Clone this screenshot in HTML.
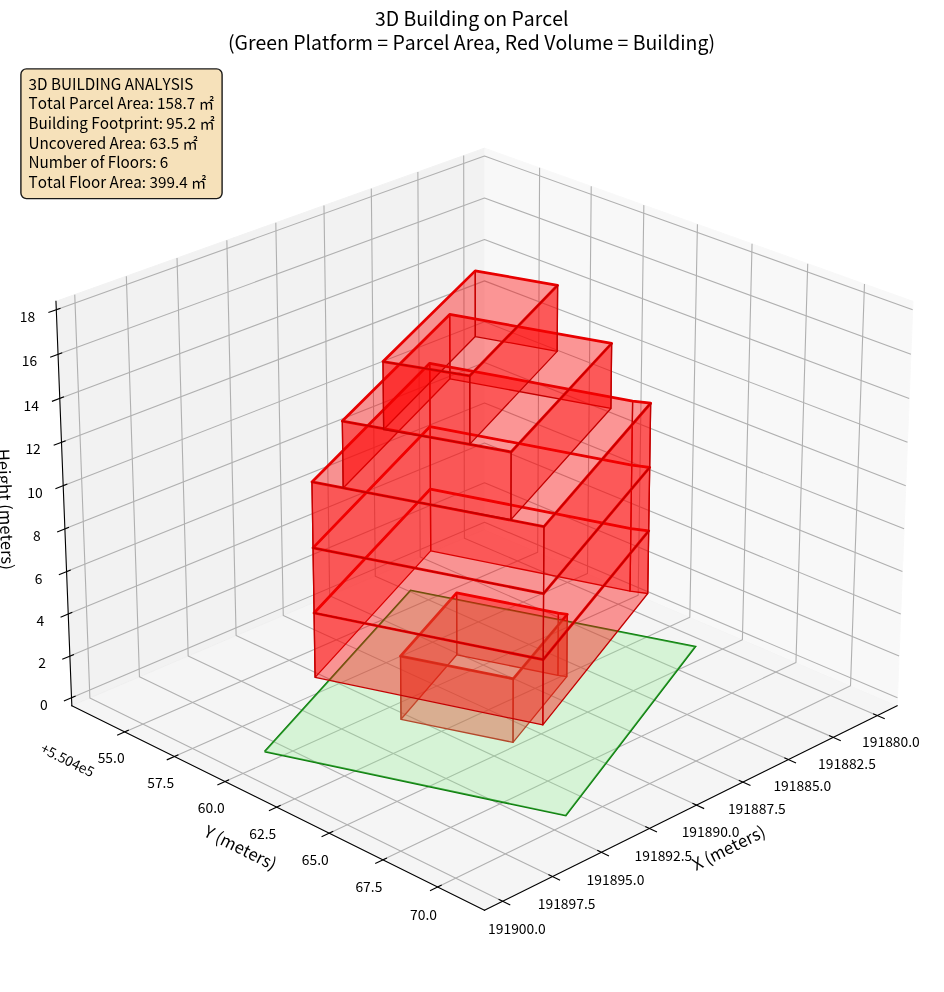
<!DOCTYPE html>
<html lang="en"><head><meta charset="utf-8"><title>3D Building on Parcel</title>
<style>html,body{margin:0;padding:0;background:#fff}svg{display:block}svg *{stroke-linejoin:round;stroke-linecap:butt}text{font-family:'Noto Sans CJK JP','Noto Sans CJK SC','Liberation Sans',sans-serif;fill:#000;font-kerning:none}.ttl text{font-size:19.44px;text-anchor:middle}.tk{font-size:13.89px;text-anchor:middle}.lb{font-size:16.67px;text-anchor:middle}.bx text{font-size:15.28px}</style></head>
<body>
<svg width="944" height="992" viewBox="0 0 944 992" role="img" aria-label="3D Building on Parcel">
<rect width="944" height="992" fill="#ffffff"/>
<g id="title" class="ttl">
<text x="471.7" y="25.7">3D Building on Parcel</text>
<text x="471.5" y="49.8">(Green Platform = Parcel Area, Red Volume = Building)</text>
</g>
<g id="panes">
<path d="M484.49 529.59L897.14 705.65L913.01 301.35L484.49 148.17" style="fill:#f2f2f2;opacity:0.5;stroke:#f2f2f2;stroke-linejoin:miter"/>
<path d="M484.49 529.59L71.83 705.65L55.96 301.35L484.49 148.17" style="fill:#e6e6e6;opacity:0.5;stroke:#e6e6e6;stroke-linejoin:miter"/>
<path d="M484.49 529.59L71.83 705.65L484.49 910.22L897.14 705.65" style="fill:#ececec;opacity:0.5;stroke:#ececec;stroke-linejoin:miter"/>
</g>
<g id="grid">
<path d="M877.15 715.56L464.39 538.16L463.67 155.61" style="fill:none;stroke:#b0b0b0;stroke-width:1.11"/>
<path d="M833.16 737.37L420.2 557.02L417.87 171.98" style="fill:none;stroke:#b0b0b0;stroke-width:1.11"/>
<path d="M788.4 759.56L375.29 576.18L371.31 188.62" style="fill:none;stroke:#b0b0b0;stroke-width:1.11"/>
<path d="M742.85 782.14L329.65 595.65L323.97 205.55" style="fill:none;stroke:#b0b0b0;stroke-width:1.11"/>
<path d="M696.5 805.12L283.27 615.44L275.81 222.76" style="fill:none;stroke:#b0b0b0;stroke-width:1.11"/>
<path d="M649.33 828.5L236.12 635.56L226.84 240.26" style="fill:none;stroke:#b0b0b0;stroke-width:1.11"/>
<path d="M601.31 852.31L188.18 656.01L177.02 258.07" style="fill:none;stroke:#b0b0b0;stroke-width:1.11"/>
<path d="M552.42 876.54L139.44 676.81L126.33 276.19" style="fill:none;stroke:#b0b0b0;stroke-width:1.11"/>
<path d="M502.63 901.22L89.88 697.95L74.75 294.63" style="fill:none;stroke:#b0b0b0;stroke-width:1.11"/>
<path d="M539.6 167.87L537.68 552.29L124.76 731.89" style="fill:none;stroke:#b0b0b0;stroke-width:1.11"/>
<path d="M591.23 186.33L587.49 573.54L174.4 756.5" style="fill:none;stroke:#b0b0b0;stroke-width:1.11"/>
<path d="M643.84 205.13L638.19 595.17L224.99 781.58" style="fill:none;stroke:#b0b0b0;stroke-width:1.11"/>
<path d="M697.43 224.29L689.82 617.2L276.59 807.16" style="fill:none;stroke:#b0b0b0;stroke-width:1.11"/>
<path d="M752.05 243.81L742.4 639.63L329.2 833.24" style="fill:none;stroke:#b0b0b0;stroke-width:1.11"/>
<path d="M807.72 263.71L795.96 662.48L382.87 859.85" style="fill:none;stroke:#b0b0b0;stroke-width:1.11"/>
<path d="M864.48 284L850.52 685.76L437.63 886.99" style="fill:none;stroke:#b0b0b0;stroke-width:1.11"/>
<path d="M71.52 697.86L484.49 522.22L897.45 697.86" style="fill:none;stroke:#b0b0b0;stroke-width:1.11"/>
<path d="M69.89 656.11L484.49 482.74L899.09 656.11" style="fill:none;stroke:#b0b0b0;stroke-width:1.11"/>
<path d="M68.23 614.02L484.49 442.96L900.74 614.02" style="fill:none;stroke:#b0b0b0;stroke-width:1.11"/>
<path d="M66.57 571.59L484.49 402.89L902.41 571.59" style="fill:none;stroke:#b0b0b0;stroke-width:1.11"/>
<path d="M64.89 528.83L484.49 362.52L904.08 528.83" style="fill:none;stroke:#b0b0b0;stroke-width:1.11"/>
<path d="M63.2 485.71L484.49 321.85L905.78 485.71" style="fill:none;stroke:#b0b0b0;stroke-width:1.11"/>
<path d="M61.49 442.25L484.49 280.87L907.48 442.25" style="fill:none;stroke:#b0b0b0;stroke-width:1.11"/>
<path d="M59.77 398.44L484.49 239.58L909.2 398.44" style="fill:none;stroke:#b0b0b0;stroke-width:1.11"/>
<path d="M58.04 354.27L484.49 197.98L910.94 354.27" style="fill:none;stroke:#b0b0b0;stroke-width:1.11"/>
<path d="M56.29 309.74L484.49 156.06L912.68 309.74" style="fill:none;stroke:#b0b0b0;stroke-width:1.11"/>
</g>
<g id="axes">
<path d="M897.14 705.65L484.49 910.22" style="fill:none;stroke:#000000;stroke-width:1.11;stroke-linecap:square"/>
<path d="M71.83 705.65L484.49 910.22" style="fill:none;stroke:#000000;stroke-width:1.11;stroke-linecap:square"/>
<path d="M71.83 705.65L55.96 301.35" style="fill:none;stroke:#000000;stroke-width:1.11;stroke-linecap:square"/>
</g>
<g id="ticks">
<path d="M873.61 714.04L884.26 718.62" style="fill:none;stroke:#000000;stroke-width:1.11;stroke-linecap:square"/>
<path d="M829.6 735.82L840.27 740.48" style="fill:none;stroke:#000000;stroke-width:1.11;stroke-linecap:square"/>
<path d="M784.84 757.98L795.52 762.73" style="fill:none;stroke:#000000;stroke-width:1.11;stroke-linecap:square"/>
<path d="M739.29 780.53L749.98 785.36" style="fill:none;stroke:#000000;stroke-width:1.11;stroke-linecap:square"/>
<path d="M692.94 803.48L703.64 808.39" style="fill:none;stroke:#000000;stroke-width:1.11;stroke-linecap:square"/>
<path d="M645.77 826.84L656.47 831.84" style="fill:none;stroke:#000000;stroke-width:1.11;stroke-linecap:square"/>
<path d="M597.74 850.61L608.45 855.7" style="fill:none;stroke:#000000;stroke-width:1.11;stroke-linecap:square"/>
<path d="M548.85 874.82L559.56 880" style="fill:none;stroke:#000000;stroke-width:1.11;stroke-linecap:square"/>
<path d="M499.07 899.47L509.78 904.74" style="fill:none;stroke:#000000;stroke-width:1.11;stroke-linecap:square"/>
<path d="M128.32 730.35L117.65 734.99" style="fill:none;stroke:#000000;stroke-width:1.11;stroke-linecap:square"/>
<path d="M177.95 754.92L167.27 759.65" style="fill:none;stroke:#000000;stroke-width:1.11;stroke-linecap:square"/>
<path d="M228.55 779.98L217.86 784.8" style="fill:none;stroke:#000000;stroke-width:1.11;stroke-linecap:square"/>
<path d="M280.15 805.52L269.45 810.44" style="fill:none;stroke:#000000;stroke-width:1.11;stroke-linecap:square"/>
<path d="M332.76 831.57L322.06 836.59" style="fill:none;stroke:#000000;stroke-width:1.11;stroke-linecap:square"/>
<path d="M386.44 858.14L375.73 863.26" style="fill:none;stroke:#000000;stroke-width:1.11;stroke-linecap:square"/>
<path d="M441.19 885.25L430.48 890.47" style="fill:none;stroke:#000000;stroke-width:1.11;stroke-linecap:square"/>
<path d="M75.07 696.35L64.41 700.89" style="fill:none;stroke:#000000;stroke-width:1.11;stroke-linecap:square"/>
<path d="M73.45 654.62L62.74 659.09" style="fill:none;stroke:#000000;stroke-width:1.11;stroke-linecap:square"/>
<path d="M71.81 612.55L61.06 616.96" style="fill:none;stroke:#000000;stroke-width:1.11;stroke-linecap:square"/>
<path d="M70.16 570.14L59.37 574.5" style="fill:none;stroke:#000000;stroke-width:1.11;stroke-linecap:square"/>
<path d="M68.5 527.39L57.66 531.69" style="fill:none;stroke:#000000;stroke-width:1.11;stroke-linecap:square"/>
<path d="M66.82 484.3L55.93 488.54" style="fill:none;stroke:#000000;stroke-width:1.11;stroke-linecap:square"/>
<path d="M65.13 440.87L54.19 445.04" style="fill:none;stroke:#000000;stroke-width:1.11;stroke-linecap:square"/>
<path d="M63.43 397.07L52.44 401.18" style="fill:none;stroke:#000000;stroke-width:1.11;stroke-linecap:square"/>
<path d="M61.71 352.92L50.68 356.97" style="fill:none;stroke:#000000;stroke-width:1.11;stroke-linecap:square"/>
<path d="M59.98 308.41L48.9 312.39" style="fill:none;stroke:#000000;stroke-width:1.11;stroke-linecap:square"/>
</g>
<g id="labels">
<text class="tk" x="890.92" y="746.73">191880.0</text>
<text class="tk" x="846.99" y="768.74">191882.5</text>
<text class="tk" x="802.29" y="791.12">191885.0</text>
<text class="tk" x="756.81" y="813.9">191887.5</text>
<text class="tk" x="710.53" y="837.09">191890.0</text>
<text class="tk" x="663.43" y="860.68">191892.5</text>
<text class="tk" x="615.47" y="884.7">191895.0</text>
<text class="tk" x="566.65" y="909.16">191897.5</text>
<text class="tk" x="516.93" y="934.06">191900.0</text>
<text class="lb" x="731.37" y="853.36" transform="rotate(-26.37 731.37 853.36)">X (meters)</text>
<text class="tk" x="111.15" y="763.11">55.0</text>
<text class="tk" x="160.71" y="787.93">57.5</text>
<text class="tk" x="211.23" y="813.24">60.0</text>
<text class="tk" x="262.75" y="839.04">62.5</text>
<text class="tk" x="315.29" y="865.36">65.0</text>
<text class="tk" x="368.88" y="892.21">67.5</text>
<text class="tk" x="423.57" y="919.6">70.0</text>
<text class="tk" x="39.4" y="751.84" style="text-anchor:start" transform="rotate(26.37 39.4 751.84)">+5.504e5</text>
<text class="lb" x="237.81" y="853.26" transform="rotate(26.37 237.81 853.26)">Y (meters)</text>
<text class="tk" x="43.81" y="709.92">0</text>
<text class="tk" x="42.06" y="668.16">2</text>
<text class="tk" x="40.3" y="626.07">4</text>
<text class="tk" x="38.53" y="583.65">6</text>
<text class="tk" x="36.74" y="540.88">8</text>
<text class="tk" x="34.93" y="497.77">10</text>
<text class="tk" x="33.11" y="454.31">12</text>
<text class="tk" x="31.28" y="410.5">14</text>
<text class="tk" x="29.43" y="366.32">16</text>
<text class="tk" x="27.57" y="321.79">18</text>
<text class="lb" x="-0.55" y="509.5" transform="rotate(87.75 -0.55 509.5)">Height (meters)</text>
</g>
<g id="parcel_edge">
<path d="M264.58 751.55L565.78 815.62L695.36 646.58L410.58 590.48L264.58 751.55" style="fill:none;stroke:#087a08;stroke-width:1.81;stroke-linejoin:miter"/>
</g>
<g id="solids">
<path d="M430.71 550.87L630.03 591.15L630.88 528.52L430.4 489.06Z" style="stroke:#c40000;stroke-width:1.28;fill:#ff0000;fill-opacity:0.4"/>
<path d="M630.03 591.15L647.75 593.5L648.71 530.82L630.88 528.52Z" style="stroke:#c40000;stroke-width:1.28;fill:#ff0000;fill-opacity:0.4"/>
<path d="M456.8 654.78L557.95 675.47L558.38 613.14L456.64 592.85Z" style="stroke:#c40000;stroke-width:1.28;fill:#ff0000;fill-opacity:0.4"/>
<path d="M557.95 675.47L566.8 676.69L567.28 614.34L558.38 613.14Z" style="stroke:#c40000;stroke-width:1.28;fill:#ff0000;fill-opacity:0.4"/>
<path d="M430.4 489.06L630.88 528.52L631.75 465.15L430.09 426.53Z" style="stroke:#c40000;stroke-width:1.28;fill:#ff0000;fill-opacity:0.4"/>
<path d="M630.88 528.52L648.71 530.82L649.69 467.4L631.75 465.15Z" style="stroke:#c40000;stroke-width:1.28;fill:#ff0000;fill-opacity:0.4"/>
<path d="M430.09 426.53L631.75 465.15L632.63 401.03L429.77 363.27Z" style="stroke:#c40000;stroke-width:1.28;fill:#ff0000;fill-opacity:0.4"/>
<path d="M631.75 465.15L649.69 467.4L650.67 403.23L632.63 401.03Z" style="stroke:#c40000;stroke-width:1.28;fill:#ff0000;fill-opacity:0.4"/>
<path d="M401 719.26L456.8 654.78L456.64 592.85L400.5 656.1Z" style="stroke:#c40000;stroke-width:1.28;fill:#ff0000;fill-opacity:0.4"/>
<path d="M449.94 378.79L610.9 408.48L611.66 343.41L449.74 314.42Z" style="stroke:#c40000;stroke-width:1.28;fill:#ff0000;fill-opacity:0.4"/>
<path d="M456.64 592.85L558.38 613.14L567.28 614.34L513.19 678.8L400.5 656.1Z" style="stroke:#e80000;stroke-width:2.78;fill:#ff0000;fill-opacity:0"/>
<path d="M566.8 676.69L513.02 742.4L513.19 678.8L567.28 614.34Z" style="stroke:#c40000;stroke-width:1.28;fill:#ff0000;fill-opacity:0.4"/>
<path d="M513.02 742.4L401 719.26L400.5 656.1L513.19 678.8Z" style="stroke:#c40000;stroke-width:1.28;fill:#ff0000;fill-opacity:0.4"/>
<path d="M475.28 336.56L557.18 351.34L557.62 285.29L475.22 270.87Z" style="stroke:#c40000;stroke-width:1.28;fill:#ff0000;fill-opacity:0.4"/>
<path d="M315.1 677.34L430.71 550.87L430.4 489.06L314.07 612.99Z" style="stroke:#c40000;stroke-width:1.28;fill:#ff0000;fill-opacity:0.4"/>
<path d="M314.07 612.99L430.4 489.06L430.09 426.53L313.02 547.85Z" style="stroke:#c40000;stroke-width:1.28;fill:#ff0000;fill-opacity:0.4"/>
<path d="M313.02 547.85L430.09 426.53L429.77 363.27L311.96 481.9Z" style="stroke:#c40000;stroke-width:1.28;fill:#ff0000;fill-opacity:0.4"/>
<path d="M264.58 751.55L565.78 815.62L695.36 646.58L410.58 590.48Z" style="fill:#90ee90;fill-opacity:0.3"/>
<path d="M430.4 489.06L630.88 528.52L648.71 530.82L543.2 659.63L314.07 612.99Z" style="stroke:#e80000;stroke-width:2.78;fill:#ff0000;fill-opacity:0"/>
<path d="M647.75 593.5L542.84 724.92L543.2 659.63L648.71 530.82Z" style="stroke:#c40000;stroke-width:1.28;fill:#ff0000;fill-opacity:0.4"/>
<path d="M542.84 724.92L315.1 677.34L314.07 612.99L543.2 659.63Z" style="stroke:#c40000;stroke-width:1.28;fill:#ff0000;fill-opacity:0.4"/>
<path d="M343.19 488.02L449.94 378.79L449.74 314.42L342.31 421.11Z" style="stroke:#c40000;stroke-width:1.28;fill:#ff0000;fill-opacity:0.4"/>
<path d="M430.09 426.53L631.75 465.15L649.69 467.4L543.57 593.53L313.02 547.85Z" style="stroke:#e80000;stroke-width:2.78;fill:#ff0000;fill-opacity:0"/>
<path d="M648.71 530.82L543.2 659.63L543.57 593.53L649.69 467.4Z" style="stroke:#c40000;stroke-width:1.28;fill:#ff0000;fill-opacity:0.4"/>
<path d="M543.2 659.63L314.07 612.99L313.02 547.85L543.57 593.53Z" style="stroke:#c40000;stroke-width:1.28;fill:#ff0000;fill-opacity:0.4"/>
<path d="M383.64 429.53L475.28 336.56L475.22 270.87L383 361.58Z" style="stroke:#c40000;stroke-width:1.28;fill:#ff0000;fill-opacity:0.4"/>
<path d="M429.77 363.27L632.63 401.03L650.67 403.23L543.94 526.59L311.96 481.9Z" style="stroke:#e80000;stroke-width:2.78;fill:#ff0000;fill-opacity:0"/>
<path d="M649.69 467.4L543.57 593.53L543.94 526.59L650.67 403.23Z" style="stroke:#c40000;stroke-width:1.28;fill:#ff0000;fill-opacity:0.4"/>
<path d="M543.57 593.53L313.02 547.85L311.96 481.9L543.94 526.59Z" style="stroke:#c40000;stroke-width:1.28;fill:#ff0000;fill-opacity:0.4"/>
<path d="M449.74 314.42L611.66 343.41L511.11 451.96L342.31 421.11Z" style="stroke:#e80000;stroke-width:2.78;fill:#ff0000;fill-opacity:0"/>
<path d="M610.9 408.48L510.94 519.59L511.11 451.96L611.66 343.41Z" style="stroke:#c40000;stroke-width:1.28;fill:#ff0000;fill-opacity:0.4"/>
<path d="M510.94 519.59L343.19 488.02L342.31 421.11L511.11 451.96Z" style="stroke:#c40000;stroke-width:1.28;fill:#ff0000;fill-opacity:0.4"/>
<path d="M475.22 270.87L557.62 285.29L469.78 375.78L383 361.58Z" style="stroke:#e80000;stroke-width:2.78;fill:#ff0000;fill-opacity:0"/>
<path d="M557.18 351.34L469.87 444.08L469.78 375.78L557.62 285.29Z" style="stroke:#c40000;stroke-width:1.28;fill:#ff0000;fill-opacity:0.4"/>
<path d="M469.87 444.08L383.64 429.53L383 361.58L469.78 375.78Z" style="stroke:#c40000;stroke-width:1.28;fill:#ff0000;fill-opacity:0.4"/>
</g>
<g id="infobox">
<rect x="20.9" y="68.9" width="201.2" height="129.7" rx="5.5" ry="5.5" style="fill:#f5deb3;fill-opacity:0.9;stroke:#000;stroke-opacity:0.9;stroke-width:1.39"/>
<g class="bx">
<text x="28.5" y="89.5">3D BUILDING ANALYSIS</text>
<text x="28.5" y="109.3">Total Parcel Area: 158.7 ㎡</text>
<text x="28.5" y="128.6">Building Footprint: 95.2 ㎡</text>
<text x="28.5" y="148.8">Uncovered Area: 63.5 ㎡</text>
<text x="28.5" y="168.1">Number of Floors: 6</text>
<text x="28.5" y="187.6">Total Floor Area: 399.4 ㎡</text>
</g></g>
</svg>
</body></html>
